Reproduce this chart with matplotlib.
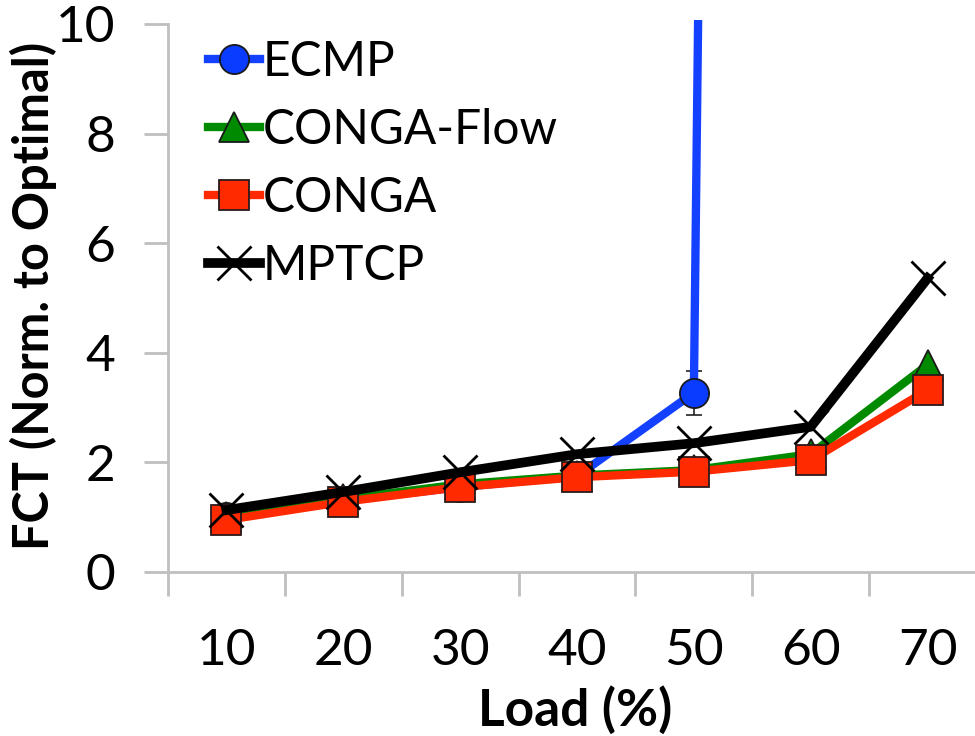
import matplotlib
matplotlib.use("Agg")
import matplotlib.pyplot as plt
from matplotlib.patches import Rectangle
import numpy as np

loads = ["10", "20", "30", "40", "50", "60", "70"]
ecmp = [1.0, 1.3, 1.55, 1.75, 3.27, 190.0, 400.0]
conga_flow = [1.0, 1.33, 1.6, 1.76, 1.86, 2.15, 3.78]
conga = [0.95, 1.28, 1.55, 1.73, 1.83, 2.04, 3.32]
mptcp = [1.13, 1.46, 1.82, 2.15, 2.35, 2.65, 5.36]
ecmp_err_low = [0, 0, 0, 0, 0.4, 0, 0]
ecmp_err_high = [0, 0, 0, 0, 0.4, 0, 0]

plt.rcParams['font.family'] = ['Lato', 'DejaVu Sans']

fig = plt.figure(figsize=(9.75, 7.36), dpi=100)
ax = fig.add_axes([168/975, (736-572)/736, (986-168)/975, (572-24)/736])

x = np.arange(1, len(loads) + 1)
gray = '#BFBFBF'

ecmp_line, = ax.plot(x, ecmp, color='#1440FF', lw=6, marker='o', ms=21, mfc='#0A3CFF', mec='#1a1a1a',
                     mew=1.3, label='ECMP', zorder=3)
ecmp_line.set_clip_path(Rectangle((0, 0), 1, 1.008, transform=ax.transAxes))
ax.errorbar(x[4], ecmp[4], yerr=[[ecmp_err_low[4]], [ecmp_err_high[4]]], fmt='none', ecolor='#222222',
            elinewidth=1.2, capsize=6, capthick=1.2, zorder=2.5)
ax.plot(x, conga_flow, color='#008A00', lw=6, marker='^', ms=22, mfc='#008A00', mec='#1a1a1a', mew=1.3,
        label='CONGA-Flow', zorder=4)
ax.plot(x, conga, color='#FF2A00', lw=6, marker='s', ms=21, mfc='#FF2A00', mec='#2a1a1a', mew=1.3,
        label='CONGA', zorder=5)
ax.plot(x, mptcp, color='black', lw=7, marker='x', ms=25, mec='black', mew=2.0,
        label='MPTCP', zorder=6)

ax.set_xlim(0.5, 7.5)
ax.set_ylim(0, 10)
ax.set_yticks([0, 2, 4, 6, 8, 10])
ax.set_xticks(x)
ax.set_xticklabels(loads)
ax.set_xticks(np.arange(0.5, 8, 1), minor=True)

for s in ['top', 'right']:
    ax.spines[s].set_visible(False)
for s in ['left', 'bottom']:
    ax.spines[s].set_color(gray)
    ax.spines[s].set_linewidth(2)

ax.tick_params(axis='y', which='major', direction='out', length=17, width=2, color=gray,
               labelsize=37, pad=21)
ax.tick_params(axis='x', which='major', length=0, labelsize=37, pad=40)
ax.tick_params(axis='x', which='minor', direction='out', length=17, width=2, color=gray)

fig.text(33/975, 1 - 296/736, 'FCT (Norm. to Optimal)', rotation=90, ha='center', va='center',
         fontsize=35, fontweight='bold')
fig.text(575/975, 1 - 710/736, 'Load (%)', ha='center', va='center', fontsize=37, fontweight='bold')

leg = ax.legend(loc='upper left', bbox_to_anchor=(208/975, 1 - 40/736), bbox_transform=fig.transFigure,
                frameon=False, fontsize=34.5, handlelength=1.08, handletextpad=0.06, labelspacing=0.5,
                markerscale=1.0, borderpad=0, borderaxespad=0)

fig.savefig('out.png', dpi=100)
